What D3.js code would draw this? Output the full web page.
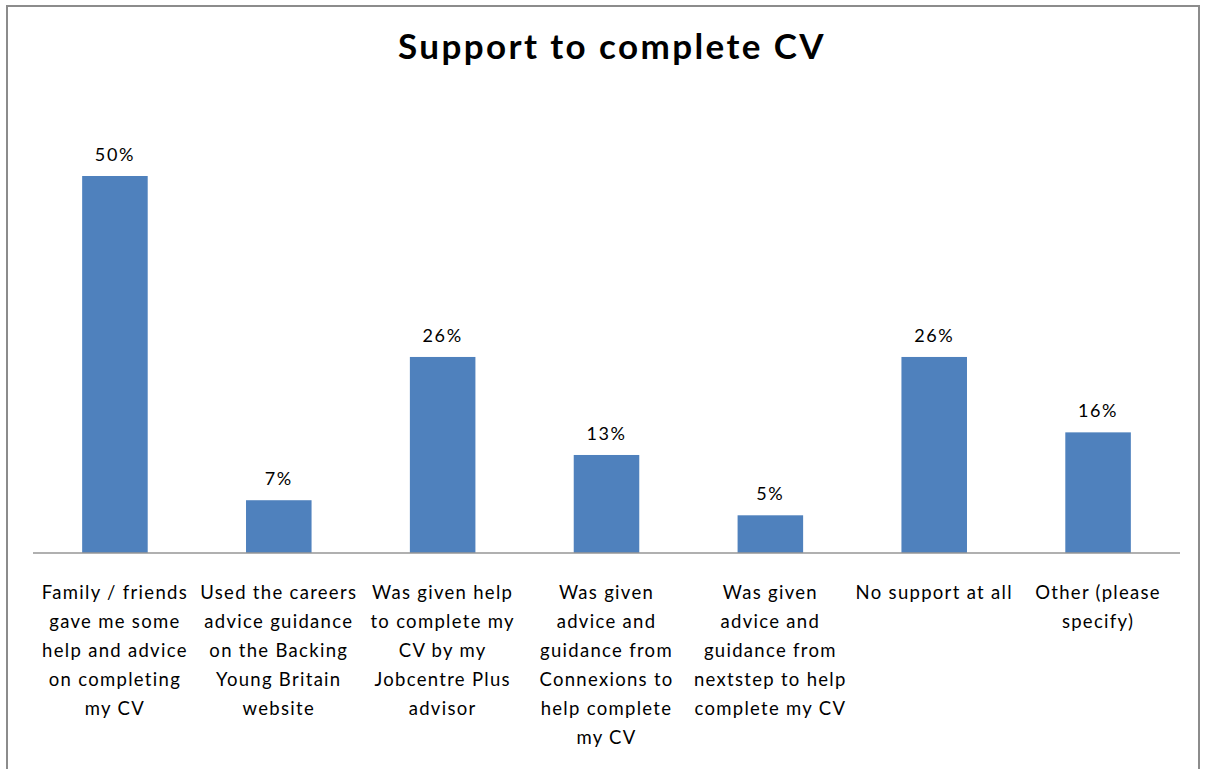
<!DOCTYPE html>
<html>
<head>
<meta charset="utf-8">
<script src="https://cdn.jsdelivr.net/npm/d3@7"></script>
<style>
  html, body { margin: 0; padding: 0; background: #fff; }
  svg { display: block; }
  text { font-family: Lato, "Open Sans", "Liberation Sans", sans-serif; fill: #000; }
</style>
</head>
<body>
<svg id="chart" width="1206" height="769"></svg>
<script>
// Survey responses: what support people had to complete their CV
const categories = [
  ["Family / friends", "gave me some", "help and advice", "on completing", "my CV"],
  ["Used the careers", "advice guidance", "on the Backing", "Young Britain", "website"],
  ["Was given help", "to complete my", "CV by my", "Jobcentre Plus", "advisor"],
  ["Was given", "advice and", "guidance from", "Connexions to", "help complete", "my CV"],
  ["Was given", "advice and", "guidance from", "nextstep to help", "complete my CV"],
  ["No support at all"],
  ["Other (please", "specify)"]
];
const percentages = [50, 7, 26, 13, 5, 26, 16];
const chartTitle = "Support to complete CV";

const svg = d3.select("#chart");
const W = 1206, H = 769;

// Outer chart frame
svg.append("rect")
  .attr("x", 7).attr("y", 6)
  .attr("width", W - 14).attr("height", H + 10)
  .attr("fill", "#fff")
  .attr("stroke", "#8c8c8c")
  .attr("stroke-width", 2);

const plot = { left: 33, right: 1180, top: 100, bottom: 553 };

const x = d3.scaleBand()
  .domain(d3.range(categories.length))
  .range([plot.left, plot.right])
  .paddingInner(0.6)
  .paddingOuter(0.3);

const y = d3.scaleLinear()
  .domain([0, 50])
  .range([plot.bottom, 176]);

// Title
svg.append("text")
  .attr("x", 612).attr("y", 59)
  .attr("text-anchor", "middle")
  .style("font-size", "35px")
  .style("font-weight", "bold")
  .style("letter-spacing", "2.4px")
  .text(chartTitle);

// Bars
svg.append("g")
  .selectAll("rect")
  .data(percentages)
  .join("rect")
  .attr("x", (d, i) => x(i))
  .attr("y", d => y(d))
  .attr("width", x.bandwidth())
  .attr("height", d => plot.bottom - y(d))
  .attr("fill", "#4f81bd");

// Value labels
svg.append("g")
  .selectAll("text")
  .data(percentages)
  .join("text")
  .attr("x", (d, i) => x(i) + x.bandwidth() / 2)
  .attr("y", d => y(d) - 15)
  .attr("text-anchor", "middle")
  .style("font-size", "18px")
  .style("letter-spacing", "1.6px")
  .text(d => d + "%");

// Category axis
const xAxis = d3.axisBottom(x).tickSize(0).tickFormat("");
const axisG = svg.append("g")
  .attr("transform", `translate(0,${plot.bottom})`)
  .call(xAxis);
axisG.select(".domain")
  .attr("stroke", "#969696")
  .attr("stroke-width", 1.5)
  .attr("d", `M${plot.left},0H${plot.right}`);

// Wrapped category labels
const labels = svg.append("g")
  .selectAll("text")
  .data(categories)
  .join("text")
  .attr("text-anchor", "middle")
  .style("font-size", "18.5px")
  .style("letter-spacing", "1.3px");

labels.each(function (lines, i) {
  const t = d3.select(this);
  const cx = x(i) + x.bandwidth() / 2;
  lines.forEach((line, k) => {
    t.append("tspan")
      .attr("x", cx)
      .attr("y", 599 + k * 29)
      .text(line);
  });
});
</script>
</body>
</html>
